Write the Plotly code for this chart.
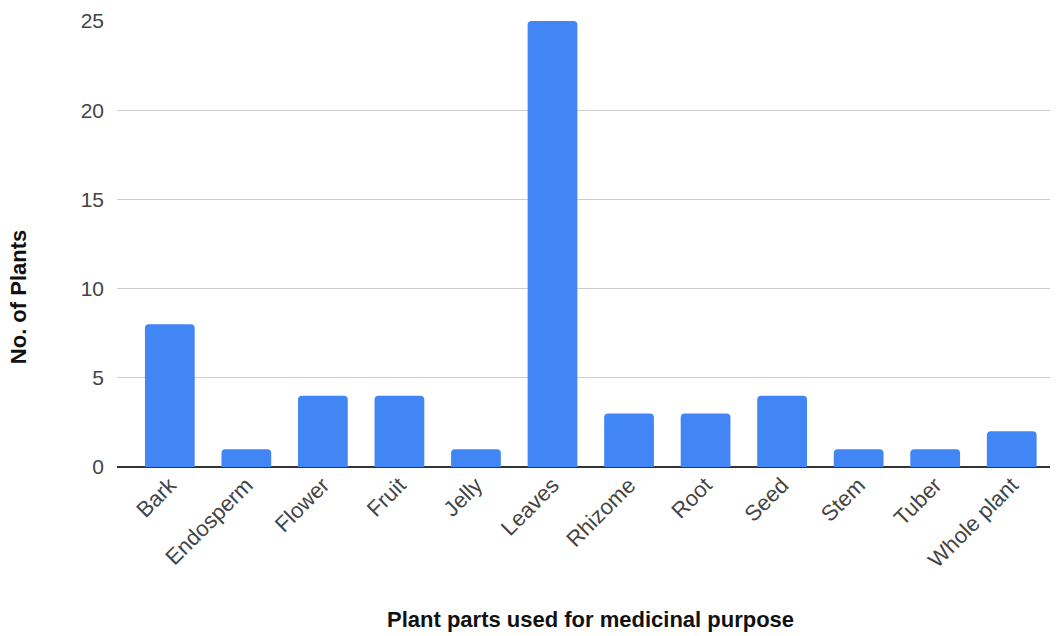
import plotly.graph_objects as go

parts = ["Bark", "Endosperm", "Flower", "Fruit", "Jelly", "Leaves", "Rhizome",
         "Root", "Seed", "Stem", "Tuber", "Whole plant"]
plant_counts = [8, 1, 4, 4, 1, 25, 3, 3, 4, 1, 1, 2]
y_ticks = [0, 5, 10, 15, 20, 25]

x_title = "Plant parts used for medicinal purpose"
y_title = "No. of Plants"

fig = go.Figure(
    go.Bar(
        x=parts,
        y=plant_counts,
        marker=dict(color="#4285F4", line=dict(width=0)),
    )
)

fig.update_layout(
    width=1057,
    height=636,
    margin=dict(l=117, r=7, t=21, b=169),
    paper_bgcolor="white",
    plot_bgcolor="white",
    bargap=0.35,
    barcornerradius=4,
    showlegend=False,
    font=dict(family="Liberation Sans, Arial, sans-serif", size=21, color="#444444"),
    xaxis=dict(
        range=[-0.69, 11.5],
        tickangle=-45,
        showgrid=False,
        showline=False,
        ticks="",
        automargin=False,
        tickfont=dict(size=22, color="#444444"),
    ),
    yaxis=dict(
        range=[0, 25],
        tickvals=y_ticks,
        showgrid=True,
        gridcolor="#CCCCCC",
        gridwidth=1,
        zeroline=True,
        zerolinecolor="#333333",
        zerolinewidth=1.5,
        ticks="",
        automargin=False,
        ticklabelstandoff=12,
        tickfont=dict(size=21, color="#444444"),
    ),
)

# Axis titles placed as annotations relative to the plotting area
fig.add_annotation(
    text=f"<b>{x_title}</b>",
    xref="paper", yref="paper",
    x=0.508, y=-0.343,
    xanchor="center", yanchor="middle",
    showarrow=False,
    font=dict(size=22, color="#111111"),
)
fig.add_annotation(
    text=f"<b>{y_title}</b>",
    xref="paper", yref="paper",
    x=-0.106, y=0.381,
    xanchor="center", yanchor="middle",
    textangle=-90,
    showarrow=False,
    font=dict(size=22, color="#111111"),
)

fig.write_html("out.html")
